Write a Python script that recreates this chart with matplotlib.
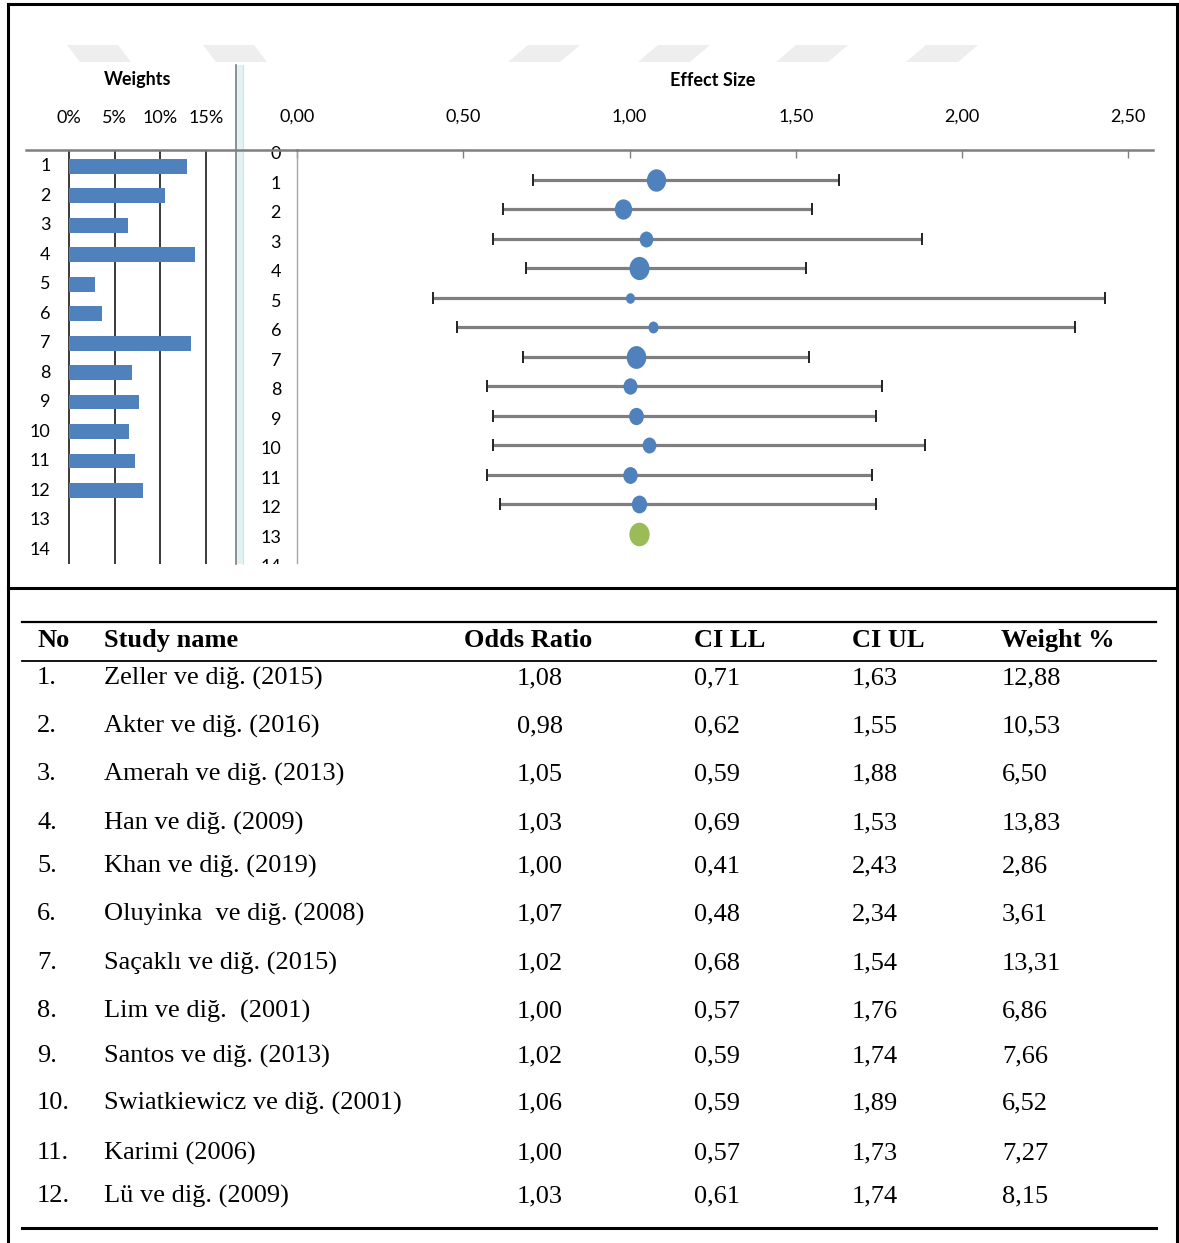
import numpy as np
import matplotlib.pyplot as plt
from matplotlib.patches import Polygon, Rectangle
from matplotlib.lines import Line2D
from matplotlib.path import Path
from matplotlib.transforms import Affine2D, Bbox, ScaledTranslation

# ---- data ----
study_no = [1, 2, 3, 4, 5, 6, 7, 8, 9, 10, 11, 12]
study_names = ["Zeller ve diğ. (2015)", "Akter ve diğ. (2016)", "Amerah ve diğ. (2013)",
               "Han ve diğ. (2009)", "Khan ve diğ. (2019)", "Oluyinka  ve diğ. (2008)",
               "Saçaklı ve diğ. (2015)", "Lim ve diğ.  (2001)", "Santos ve diğ. (2013)",
               "Swiatkiewicz ve diğ. (2001)", "Karimi (2006)", "Lü ve diğ. (2009)"]
odds_ratio = [1.08, 0.98, 1.05, 1.03, 1.00, 1.07, 1.02, 1.00, 1.02, 1.06, 1.00, 1.03]
ci_ll = [0.71, 0.62, 0.59, 0.69, 0.41, 0.48, 0.68, 0.57, 0.59, 0.59, 0.57, 0.61]
ci_ul = [1.63, 1.55, 1.88, 1.53, 2.43, 2.34, 1.54, 1.76, 1.74, 1.89, 1.73, 1.74]
weights = [12.88, 10.53, 6.50, 13.83, 2.86, 3.61, 13.31, 6.86, 7.66, 6.52, 7.27, 8.15]
pooled_or = 1.03
pooled_row = 13

es_ticks = [0.0, 0.5, 1.0, 1.5, 2.0, 2.5]
w_ticks = [0, 5, 10, 15]
headers = ["No", "Study name", "Odds Ratio", "CI LL", "CI UL", "Weight %"]


def fmt(v):
    return f"{v:.2f}".replace(".", ",")


W, H = 1179, 1243
fig = plt.figure(figsize=(W / 100, H / 100), dpi=100)
# pixel coordinates, origin top-left
px = Affine2D().scale(1 / W, -1 / H).translate(0, 1) + fig.transFigure

top_font = "Lato"
blue = "#4f81bd"
green = "#9bbb59"

# ---- forest plot ----
ax = fig.add_axes([297 / W, 1 - 563 / H, 856 / W, 413 / H])
ax.set_facecolor("none")
ax.set_xlim(0, 856 / 332.5)
ax.set_ylim(14, 0)
rows = np.array(study_no)
ell = Path.unit_circle().transformed(Affine2D().scale(0.86, 1.0))
for r, o, lo, hi, w in zip(rows, odds_ratio, ci_ll, ci_ul, weights):
    ax.plot([lo, hi], [r, r], color="#7f7f7f", lw=2.3, solid_capstyle="butt", zorder=2)
    ax.plot([lo, hi], [r, r], ls="none", marker="|", ms=9, mew=1.4, color="#222222", zorder=3)
    ax.plot(o, r, marker=ell, ms=4.5 * np.sqrt(w), color=blue, mec="none", zorder=4)
ax.plot(pooled_or, pooled_row, marker=ell, ms=17, color=green, mec="none", zorder=4)

ax.xaxis.tick_top()
ax.set_xticks(es_ticks)
ax.set_xticklabels([fmt(t) for t in es_ticks], fontfamily=top_font, fontsize=13)
ax.tick_params(axis="x", direction="in", length=6, width=1, color="#808080", pad=18)
ax.set_yticks(range(0, 15))
ax.set_yticklabels([str(i) for i in range(0, 15)], fontfamily=top_font, fontsize=13)
ax.tick_params(axis="y", length=0, pad=11.5)
for lab in ax.get_yticklabels():
    lab.set_transform(lab.get_transform() + ScaledTranslation(0, -2 / 72, fig.dpi_scale_trans))
for s in ["bottom", "right"]:
    ax.spines[s].set_visible(False)
ax.spines["top"].set_color("#7f7f7f")
ax.spines["top"].set_linewidth(1.8)
ax.spines["left"].set_color("#a6a6a6")
ax.spines["left"].set_linewidth(1.0)
lab14 = ax.get_yticklabels()[-1]
lab14.set_clip_on(True)
lab14.set_clip_box(Bbox.from_extents(0, H - 564, W, H))

# ---- weights panel ----
wa = fig.add_axes([26 / W, 1 - 564 / H, 271 / W, 414 / H])
wa.set_facecolor("none")
wa.set_xlim(-4.70, 24.95)
wa.set_ylim(14.49, 0.45)
wa.barh(rows, weights, height=0.5, color=blue, zorder=3)
for v in w_ticks:
    wa.axvline(v, color="#3a3a3a", lw=1.4, zorder=2)
wa.xaxis.tick_top()
wa.set_xticks(w_ticks)
wa.set_xticklabels([f"{t}%" for t in w_ticks], fontfamily=top_font, fontsize=13)
wa.tick_params(axis="x", length=0, pad=17)
wa.set_yticks([])
for s in ["bottom", "right", "left"]:
    wa.spines[s].set_visible(False)
wa.spines["top"].set_color("#7f7f7f")
wa.spines["top"].set_linewidth(1.8)
for i in range(1, 15):
    wa.text(-2.0, i, str(i), ha="right", va="center", fontfamily=top_font, fontsize=13)

# separator band between panels
fig.add_artist(Rectangle((235, 65), 8, 499, transform=px, fc="#e3f3f3", ec="none", zorder=-1))
fig.add_artist(Line2D([236, 236], [65, 564], transform=px, color="#7f7f7f", lw=1.2, zorder=-1))
fig.add_artist(Line2D([243, 243], [65, 564], transform=px, color="#cfe3e3", lw=0.8, zorder=-1))

# faded header shapes
for x0 in [67, 203]:
    fig.add_artist(Polygon([(x0, 45), (x0 + 51, 45), (x0 + 64, 62), (x0 + 13, 62)],
                           closed=True, transform=px, fc="#eeeeee", ec="none", zorder=-2))
for x0 in [508, 638, 776, 906]:
    fig.add_artist(Polygon([(x0, 62), (x0 + 52, 62), (x0 + 72, 45), (x0 + 20, 45)],
                           closed=True, transform=px, fc="#eeeeee", ec="none", zorder=-2))

fig.text(138, 80, "Weights", transform=px, ha="center", va="center",
         fontfamily=top_font, fontweight="bold", fontsize=13)
fig.text(713, 81, "Effect Size", transform=px, ha="center", va="center",
         fontfamily=top_font, fontweight="bold", fontsize=13)

# ---- outer frame ----
for xs, ys in [([8, 1177], [4, 4]), ([8, 1177], [588, 588]),
               ([8, 8], [4, 1243]), ([1177, 1177], [4, 1243])]:
    fig.add_artist(Line2D(xs, ys, transform=px, color="black", lw=2.2))

# ---- table ----
serif = "Liberation Serif"
fs = 19
for y, lw in [(622, 1.6), (661, 1.3), (1228, 2.2)]:
    fig.add_artist(Line2D([22, 1156], [y, y], transform=px, color="black", lw=lw))

head_x = [37, 104, 528, 694, 852, 1001]
head_ha = ["left", "left", "center", "left", "left", "left"]
for h, x, ha in zip(headers, head_x, head_ha):
    fig.text(x, 641, h, transform=px, ha=ha, va="center", fontfamily=serif,
             fontweight="bold", fontsize=fs)

row_y = [678, 726, 774, 823, 866, 914, 963, 1011, 1056, 1103, 1153, 1196]
cx = [37, 104, 540, 694, 852, 1002]
cha = ["left", "left", "center", "left", "left", "left"]
for i, y in enumerate(row_y):
    cells = [f"{study_no[i]}.", study_names[i], fmt(odds_ratio[i]), fmt(ci_ll[i]),
             fmt(ci_ul[i]), fmt(weights[i])]
    for c, x, ha in zip(cells, cx, cha):
        fig.text(x, y, c, transform=px, ha=ha, va="center", fontfamily=serif, fontsize=fs)

fig.savefig("out.png", dpi=100)
